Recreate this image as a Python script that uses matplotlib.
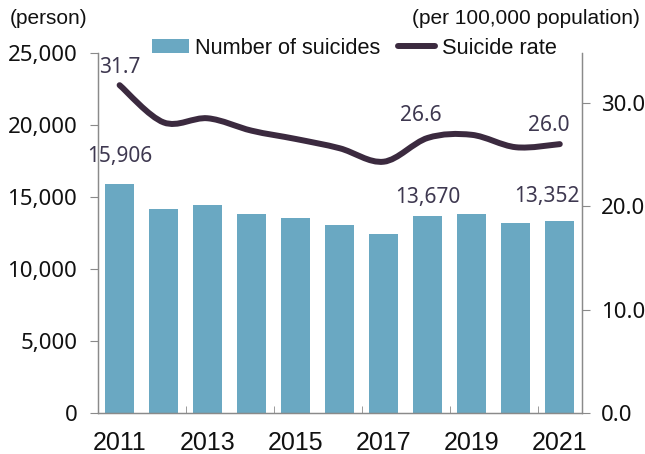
import matplotlib
matplotlib.use("Agg")
import matplotlib.pyplot as plt
from matplotlib import font_manager
from matplotlib.path import Path
from matplotlib.patches import PathPatch, Patch
from matplotlib.lines import Line2D
import numpy as np

years = [2011, 2012, 2013, 2014, 2015, 2016, 2017, 2018, 2019, 2020, 2021]
suicides = [15906, 14160, 14427, 13836, 13513, 13092, 12463, 13670, 13799, 13195, 13352]
rate = [31.7, 28.1, 28.5, 27.3, 26.5, 25.6, 24.3, 26.6, 26.9, 25.7, 26.0]
year_labels = ["2011", "2013", "2015", "2017", "2019", "2021"]
left_ticks = [0, 5000, 10000, 15000, 20000, 25000]
right_ticks = [0, 10, 20, 30]
annot_bar_idx = [0, 7, 10]
annot_rate_idx = [0, 7, 10]

names = {f.name for f in font_manager.fontManager.ttflist}
NARROW = "Liberation Sans Narrow" if "Liberation Sans Narrow" in names else "Liberation Sans"
NOTO = "Noto Sans"

BAR_C = "#6aa8c2"
LINE_C = "#3b2a3f"
LBL_C = "#3e3850"
AX_C = "#8a8a8a"

fig = plt.figure(figsize=(6.45, 4.54), dpi=100)
ax = fig.add_axes([0.152, 0.0903, 0.75, 0.7927])
ax2 = ax.twinx()

x = np.arange(len(years))
ax.bar(x, suicides, width=0.66, color=BAR_C, zorder=2)
ax.set_xlim(-0.49, 10.5)
ax.set_ylim(0, 25000)
ax2.set_ylim(0, 34.8)

# smooth line via Catmull-Rom -> Bezier path
pts = np.column_stack([x, rate]).astype(float)
verts = [tuple(pts[0])]
codes = [Path.MOVETO]
n = len(pts)
for i in range(n - 1):
    p0 = pts[i - 1] if i > 0 else pts[i]
    p1 = pts[i]
    p2 = pts[i + 1]
    p3 = pts[i + 2] if i + 2 < n else pts[i + 1]
    c1 = p1 + (p2 - p0) / 6.0
    c2 = p2 - (p3 - p1) / 6.0
    verts += [tuple(c1), tuple(c2), tuple(p2)]
    codes += [Path.CURVE4] * 3
path = Path(verts, codes)
ax2.add_patch(PathPatch(path, facecolor="none", edgecolor=LINE_C, lw=4.3,
                        capstyle="round", joinstyle="round", zorder=3))

# spines
for a in (ax, ax2):
    a.spines["top"].set_visible(False)
    for s in ("left", "right", "bottom"):
        a.spines[s].set_color(AX_C)
        a.spines[s].set_linewidth(0.9)

ax.set_yticks(left_ticks)
ax.set_yticklabels([f"{v:,}" for v in left_ticks], fontsize=16, family=NOTO, color="#111111")
ax.tick_params(axis="y", direction="out", length=6, color=AX_C, pad=9)
ax2.set_yticks(right_ticks)
ax2.set_yticklabels([f"{v:.1f}" for v in right_ticks], fontsize=16, family=NOTO, color="#111111")
ax2.tick_params(axis="y", direction="out", length=6, color=AX_C, pad=8)

ax.set_xticks(x[::2])
ax.set_xticklabels(year_labels, fontsize=18, family=NARROW, color="#111111")
ax.set_xticks(x[1::2] + 0.5, minor=True)
ax.tick_params(axis="x", which="major", length=0, pad=13)
ax.tick_params(axis="x", which="minor", direction="in", length=5, color=AX_C)

# annotations
bar_off = {0: (0, 12), 7: (0, 6), 10: (-9, 10)}
for i in annot_bar_idx:
    ax.annotate(f"{suicides[i]:,}", (x[i], suicides[i]), xytext=bar_off[i],
                textcoords="offset points", ha="center", va="bottom",
                fontsize=15, family=NOTO, color=LBL_C, zorder=5)
rate_off = {0: (0, 5.5), 7: (-5, 8.5), 10: (-8, 6)}
for i in annot_rate_idx:
    ax2.annotate(f"{rate[i]:.1f}", (x[i], rate[i]), xytext=rate_off[i],
                 textcoords="offset points", ha="center", va="bottom",
                 fontsize=15, family=NOTO, color=LBL_C, zorder=5)

# units
fig.text(10 / 645, 1 - 18 / 454, "(person)", ha="left", va="center",
         fontsize=15, family=NARROW, color="#111111")
fig.text(640 / 645, 1 - 18 / 454, "(per 100,000 population)", ha="right", va="center",
         fontsize=15, family=NARROW, color="#111111")

handles = [Patch(facecolor=BAR_C, edgecolor="none"),
           Line2D([0], [0], color=LINE_C, lw=4.3, solid_capstyle="round")]
leg = fig.legend(handles, ["Number of suicides", "Suicide rate"], loc="center",
                 bbox_to_anchor=(354 / 645, 1 - 48 / 454), ncol=2, frameon=False,
                 prop={"family": NARROW, "size": 15.7}, handlelength=1.7, handleheight=0.6,
                 handletextpad=0.3, columnspacing=0.8, borderaxespad=0)
for t in leg.get_texts():
    t.set_color("#111111")

fig.savefig("out.png", dpi=100)
